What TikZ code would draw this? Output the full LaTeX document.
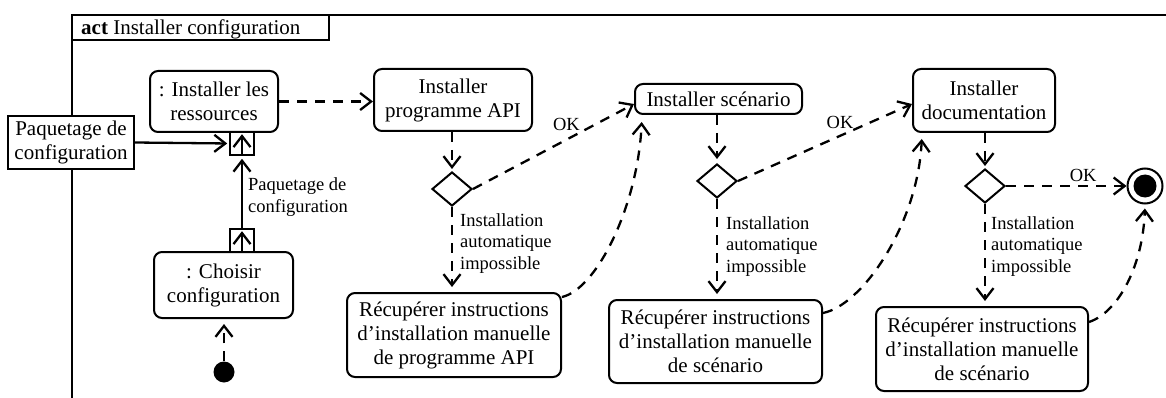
\documentclass[tikz,border=0pt]{standalone}
\usepackage{fontspec}
\setmainfont{Liberation Serif}
\usetikzlibrary{arrows.meta,shapes.geometric,calc}
\begin{document}
\begin{tikzpicture}[x=1pt,y=-1pt,
  every node/.style={font=\fontsize{21}{24}\selectfont},
  lbl/.style={font=\fontsize{18.5}{21.7}\selectfont, inner sep=0pt, align=left},
  act/.style={draw, line width=2pt, rounded corners=8pt, align=center, inner sep=0pt, fill=white},
  obj/.style={draw, line width=2pt, align=center, inner sep=0pt, fill=white},
  pinbox/.style={draw, line width=1.6pt, minimum width=24pt, minimum height=23pt, inner sep=0pt, fill=white},
  dec/.style={draw, diamond, line width=2pt, minimum width=40pt, minimum height=34pt, inner sep=0pt, aspect=1.18},
  arrowend/.style={-{Straight Barb[length=11pt,width=17pt,line width=2.3pt]}},
  flow/.style={arrowend, line width=2.3pt, dash pattern=on 10pt off 8pt},
  objflow/.style={arrowend, line width=2.3pt},
]
\useasboundingbox (0,0) rectangle (1166,398);
% frame
\draw[line width=1.6pt] (72,398) -- (72,15) -- (1166,15);
\draw[line width=1.6pt] (72,40) -- (329,40) -- (329,15);
\node[anchor=base west, inner sep=0pt] (title) at (81,35) {\textbf{act} Installer configuration};

% nodes
\node[obj, minimum width=126pt, minimum height=53pt] (pkg) at (71,142.5) {Paquetage de\\configuration};
\node[act, minimum width=128pt, minimum height=61pt] (ress) at (214,101.5) {: Installer les\\ressources};
\node[pinbox] (pin) at (242,143.5) {};
\node[act, minimum width=139pt, minimum height=66pt] (cho) at (223.5,285) {: Choisir\\configuration};
\node[pinbox] (pout) at (242,240.5) {};
\node[circle, fill, minimum size=21pt, inner sep=0pt] (init) at (224,372) {};

\node[act, minimum width=158pt, minimum height=62pt] (api) at (453,100) {Installer\\programme API};
\node[dec] (d1) at (452,189) {};
\node[act, minimum width=214pt, minimum height=84pt] (rec1) at (454,335) {Récupérer instructions\\d’installation manuelle\\de programme API};

\node[act, minimum width=167pt, minimum height=30pt] (scen) at (718.5,99) {Installer scénario};
\node[dec] (d2) at (717,181) {};
\node[act, minimum width=213pt, minimum height=83pt] (rec2) at (715.5,341.5) {Récupérer instructions\\d’installation manuelle\\de scénario};

\node[act, minimum width=142pt, minimum height=63pt] (doc) at (984,100.5) {Installer\\documentation};
\node[dec] (d3) at (985,186) {};
\node[act, minimum width=212pt, minimum height=84pt] (rec3) at (982,349) {Récupérer instructions\\d’installation manuelle\\de scénario};

\node[circle, draw, line width=2pt, minimum size=35pt, inner sep=0pt] (fin) at (1145,186) {};
\fill (fin.center) circle[radius=11.5];

% pins
\draw[objflow, shorten >=3pt] (pin.south) -- (pin.north);
\draw[objflow, shorten >=3pt] (pout.south) -- (pout.north);
\draw[objflow, shorten >=2pt] (pkg.east) -- (pin.west);
\draw[objflow, shorten >=3pt] (pout.north) -- (pin.south);
\node[lbl, anchor=north west] (lpkg) at ($(pin.south)+(6,22)$) {Paquetage de\\configuration};

% control flows
\draw[flow, shorten >=5pt] (init.north) -- (init.north |- cho.south);
\draw[flow] (ress.east) -- (ress.east -| api.west);

\draw[flow, shorten >=2pt] (api.south -| d1.north) -- (d1.north);
\draw[flow] (d1.east) -- ($(scen.west)+(0,5)$) node[lbl, pos=0.67, anchor=south east] {OK};
\draw[flow, shorten >=5pt] (d1.south) -- (d1.south |- rec1.north);
\node[lbl, anchor=north west] (l1) at ($(d1.south)+(8,6)$) {Installation\\automatique\\impossible};
\draw[flow, shorten >=7pt] ($(rec1.north east)+(0,5)$) .. controls +(35,-8) and +(-4,90) .. ($(scen.south west)+(8,0)$);

\draw[flow, shorten >=4pt] (d2.north |- scen.south) -- (d2.north);
\draw[flow] (d2.east) -- ($(doc.west)+(0,3.5)$) node[lbl, pos=0.67, anchor=south east] {OK};
\draw[flow, shorten >=5pt] (d2.south) -- (d2.south |- rec2.north);
\node[lbl, anchor=north west] (l2) at ($(d2.south)+(9,17)$) {Installation\\automatique\\impossible};
\draw[flow, shorten >=6pt] ($(rec2.north east)+(0,14)$) .. controls +(40,-8) and +(-4,90) .. ($(doc.south west)+(10,0)$);

\draw[flow, shorten >=2pt] (d3.north |- doc.south) -- (d3.north);
\draw[flow] (d3.east) -- (fin.west) node[lbl, pos=0.64, above, inner sep=3pt] {OK};
\draw[flow, shorten >=5pt] (d3.south) -- (d3.south |- rec3.north);
\node[lbl, anchor=north west] (l3) at ($(d3.south)+(6,12)$) {Installation\\automatique\\impossible};
\draw[flow, shorten >=4pt] ($(rec3.north east)+(0,16)$) .. controls +(30,-10) and +(-2,60) .. (fin.south);
\end{tikzpicture}
\end{document}
